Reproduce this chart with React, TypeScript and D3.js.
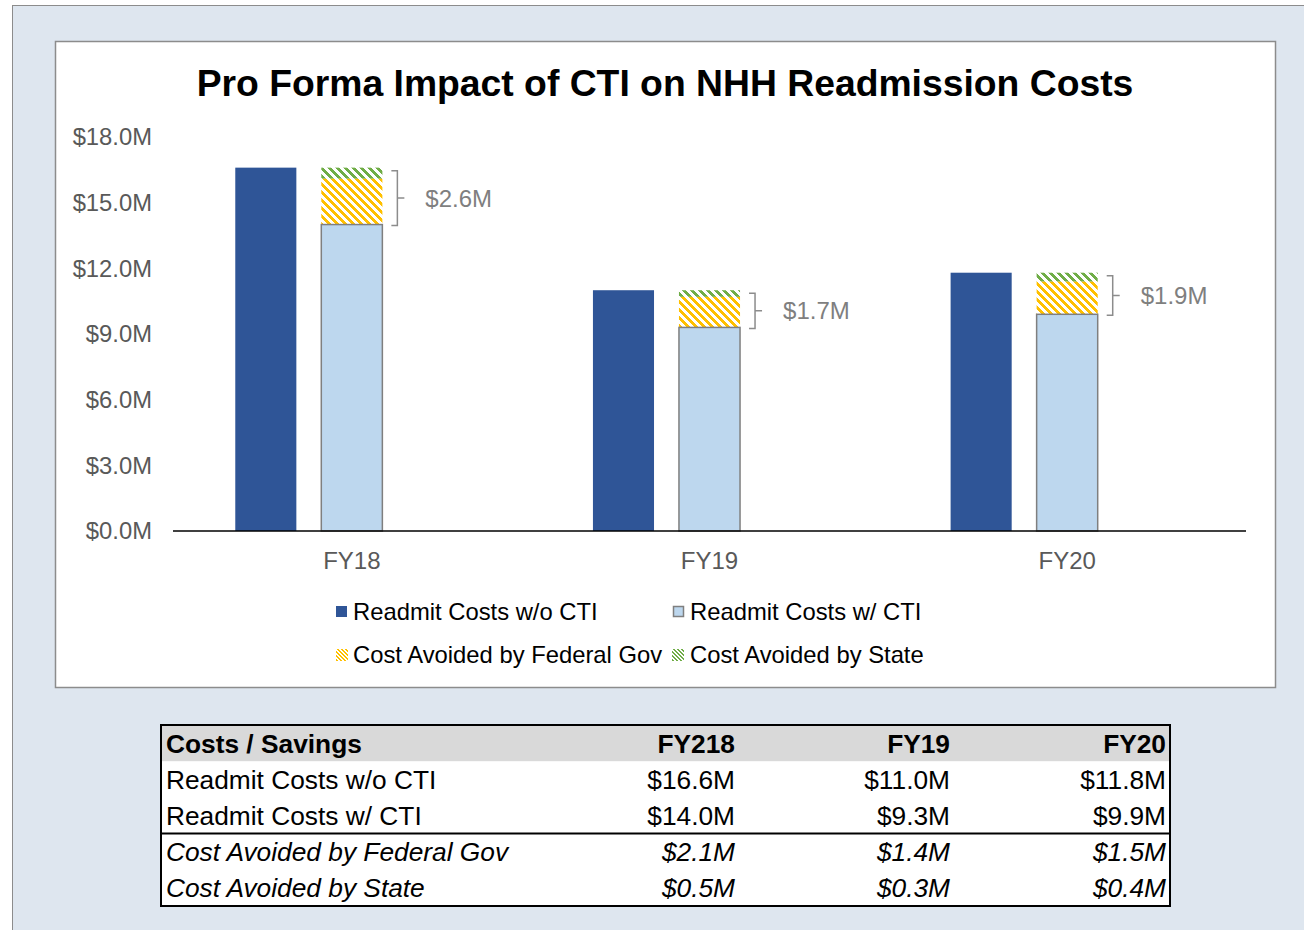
import * as d3 from "d3";

const categories = ["FY18", "FY19", "FY20"];
const withoutCti = [16.6, 11.0, 11.8];
const withCti = [14.0, 9.3, 9.9];
const federalAvoided = [2.1, 1.4, 1.5];
const stateAvoided = [0.5, 0.3, 0.4];
const yTicks = [0, 3, 6, 9, 12, 15, 18];

const tableHeader = ["Costs / Savings", "FY218", "FY19", "FY20"];
const tableRows = [
  "Readmit Costs w/o CTI",
  "Readmit Costs w/ CTI",
  "Cost Avoided by Federal Gov",
  "Cost Avoided by State",
];
const tableValues = [withoutCti, withCti, federalAvoided, stateAvoided];

const FONT = "'Liberation Sans', Arial, sans-serif";
const DARK = "#2F5597";
const LIGHT = "#BDD7EE";
const YELLOW = "#FFC000";
const GREEN = "#70AD47";

const fmt = (v: number) => `$${v.toFixed(1)}M`;

// pixel diagonal stripes ("\"), crisp like the Excel pattern fill
function Stripes({ id, color, size }: { id: string; color: string; size: number }) {
  const rows = d3.range(size);
  const on = d3.range(size / 2);
  return (
    <pattern id={id} width={size} height={size} patternUnits="userSpaceOnUse">
      <rect width={size} height={size} fill="#fff" />
      {rows.map((r) => (
        <g key={r} fill={color}>
          {on.map((k) => (
            <rect key={k} x={(r + k) % size} y={r} width={1} height={1} />
          ))}
        </g>
      ))}
    </pattern>
  );
}

export default function App() {
  const width = 1304;
  const height = 930;

  const plot = { left: 173, right: 1246, top: 137, bottom: 531 };

  const x = d3.scaleBand<string>().domain(categories).range([plot.left, plot.right]);
  const sub = d3
    .scaleBand<string>()
    .domain(["wo", "w", "note"])
    .range([0, x.bandwidth()])
    .paddingInner(0.29)
    .paddingOuter(0.724);
  const y = d3.scaleLinear().domain([0, 18]).range([plot.bottom, plot.top]);

  // table layout
  const tbl = { left: 161, right: 1170, top: 725 };
  const rowH = 36.2;
  const colRight = [0, 735, 950, 1166];

  return (
    <svg
      width={width}
      height={height}
      style={{ position: "absolute", left: 0, top: 0, display: "block" }}
      fontFamily={FONT}
    >
      <defs>
        <Stripes id="fed" color={YELLOW} size={8} />
        <Stripes id="state" color={GREEN} size={8} />
        <Stripes id="fedKey" color={YELLOW} size={4} />
        <Stripes id="stateKey" color={GREEN} size={4} />
      </defs>

      {/* outer background panel */}
      <rect x={12.5} y={5.5} width={width} height={height} fill="#DEE6EF" stroke="#8C8C8C" strokeWidth={1} />

      {/* chart area */}
      <rect x={55.5} y={41.5} width={1220} height={646} fill="#fff" stroke="#8C8C8C" strokeWidth={1.5} />

      <text x={665} y={96} textAnchor="middle" fontSize={37.3} fontWeight="bold" fill="#000">
        Pro Forma Impact of CTI on NHH Readmission Costs
      </text>

      {/* y axis labels */}
      {yTicks.map((t) => (
        <text key={t} x={152} y={y(t)} dy="0.35em" textAnchor="end" fontSize={23.8} fill="#595959">
          {fmt(t)}
        </text>
      ))}

      {categories.map((c, i) => {
        const x0 = x(c)!;
        const bw = sub.bandwidth();
        const xWo = x0 + sub("wo")!;
        const xW = x0 + sub("w")!;
        const fedTop = withCti[i] + federalAvoided[i];
        const stTop = fedTop + stateAvoided[i];
        const bx = xW + bw + 15;
        const bTop = y(stTop) + 3;
        const bBot = y(withCti[i]) + 1;
        const bMid = (bTop + bBot) / 2;
        return (
          <g key={c}>
            <rect x={xWo} y={y(withoutCti[i])} width={bw} height={y(0) - y(withoutCti[i])} fill={DARK} />
            <rect x={xW} y={y(fedTop)} width={bw} height={y(withCti[i]) - y(fedTop)} fill="url(#fed)" />
            <rect x={xW} y={y(stTop)} width={bw} height={y(fedTop) - y(stTop)} fill="url(#state)" />
            <rect
              x={xW}
              y={y(withCti[i])}
              width={bw}
              height={y(0) - y(withCti[i])}
              fill={LIGHT}
              stroke="#7F7F7F"
              strokeWidth={1.5}
            />
            <path
              d={`M${bx - 6},${bTop}H${bx}V${bBot}H${bx - 6}M${bx},${bMid}H${bx + 7}`}
              fill="none"
              stroke="#8C8C8C"
              strokeWidth={1.5}
            />
            <text x={bx + 28} y={bMid} dy="0.35em" fontSize={24} fill="#7F7F7F">
              {fmt(federalAvoided[i] + stateAvoided[i])}
            </text>
            <text x={x0 + x.bandwidth() / 2} y={561} dy="0.35em" textAnchor="middle" fontSize={24} fill="#595959">
              {c}
            </text>
          </g>
        );
      })}

      {/* x axis */}
      <line x1={plot.left} x2={plot.right} y1={y(0)} y2={y(0)} stroke="#000" strokeWidth={1.5} />

      {/* legend */}
      <g fontSize={23.8} fill="#000">
        <rect x={336} y={606} width={11} height={11} fill={DARK} />
        <text x={353} y={612} dy="0.35em">Readmit Costs w/o CTI</text>
        <rect x={673.5} y={606.5} width={10} height={10} fill={LIGHT} stroke="#7F7F7F" strokeWidth={1.5} />
        <text x={690} y={612} dy="0.35em">Readmit Costs w/ CTI</text>
        <rect x={336} y={649} width={12} height={12} fill="url(#fedKey)" />
        <text x={353} y={655} dy="0.35em">Cost Avoided by Federal Gov</text>
        <rect x={672} y={649} width={12} height={12} fill="url(#stateKey)" />
        <text x={690} y={655} dy="0.35em">Cost Avoided by State</text>
      </g>

      {/* table */}
      <g fontSize={26.3} fill="#000">
        <rect x={tbl.left} y={tbl.top} width={tbl.right - tbl.left} height={rowH * 5} fill="#fff" />
        <rect x={tbl.left} y={tbl.top} width={tbl.right - tbl.left} height={rowH} fill="#D9D9D9" />
        {tableHeader.map((h, j) => (
          <text
            key={h}
            x={j === 0 ? tbl.left + 5 : colRight[j]}
            y={tbl.top + rowH / 2}
            dy="0.36em"
            textAnchor={j === 0 ? "start" : "end"}
            fontWeight="bold"
          >
            {h}
          </text>
        ))}
        {tableRows.map((r, i) => {
          const cy = tbl.top + rowH * (i + 1) + rowH / 2;
          const italic = i >= 2 ? "italic" : "normal";
          return (
            <g key={r} fontStyle={italic}>
              <text x={tbl.left + 5} y={cy} dy="0.36em">
                {r}
              </text>
              {tableValues[i].map((v, j) => (
                <text key={j} x={colRight[j + 1]} y={cy} dy="0.36em" textAnchor="end">
                  {fmt(v)}
                </text>
              ))}
            </g>
          );
        })}
        <line
          x1={tbl.left}
          x2={tbl.right}
          y1={tbl.top + rowH * 3}
          y2={tbl.top + rowH * 3}
          stroke="#000"
          strokeWidth={2}
        />
        <rect
          x={tbl.left}
          y={tbl.top}
          width={tbl.right - tbl.left}
          height={rowH * 5}
          fill="none"
          stroke="#000"
          strokeWidth={2}
        />
      </g>
    </svg>
  );
}
